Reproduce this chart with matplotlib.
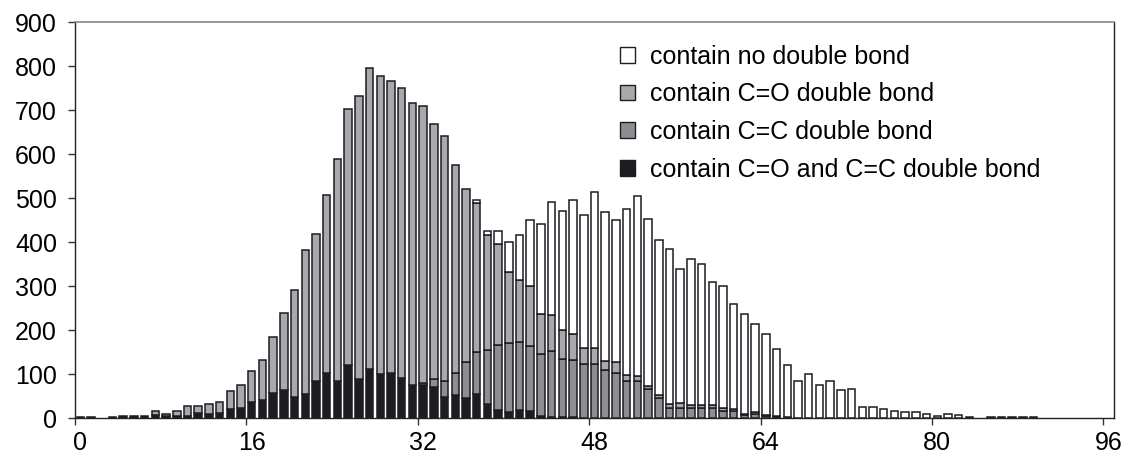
import numpy as np
import matplotlib.pyplot as plt
from matplotlib.patches import Patch

plt.rcParams['font.family'] = ['Liberation Sans', 'DejaVu Sans']

n_bins = 97  # categories 0..96

# counts per bin (bottom -> top of each stack)
both_bonds = [2, 2, 0, 3, 4, 5, 4, 6, 4, 5,
              5, 12, 9, 11, 20, 23, 36, 40, 56, 64,
              47, 55, 85, 102, 85, 120, 89, 111, 99, 102,
              90, 75, 75, 70, 47, 52, 46, 54, 32, 18,
              14, 19, 15, 5, 3, 2, 2, 1, 1, 1,
              1, 1, 1, 1, 1, 1, 1, 1, 1, 1,
              1, 1, 1, 1, 1]
cc_bond = [0, 0, 0, 0, 0, 0, 0, 0, 0, 0,
           0, 0, 0, 0, 0, 0, 0, 0, 0, 0,
           0, 0, 0, 0, 0, 0, 0, 0, 0, 0,
           0, 0, 4, 18, 38, 51, 81, 97, 123, 149,
           157, 153, 149, 141, 150, 133, 130, 121, 122, 108,
           101, 83, 83, 64, 44, 22, 22, 22, 21, 21,
           16, 14, 5, 8, 3, 2, 1]
co_bond = [0, 0, 0, 0, 0, 0, 0, 9, 6, 12,
           22, 16, 22, 26, 41, 51, 70, 91, 129, 175,
           243, 327, 333, 404, 503, 582, 643, 684, 678, 665,
           661, 641, 630, 580, 555, 473, 393, 337, 261, 228,
           160, 142, 136, 90, 80, 64, 60, 36, 37, 20,
           25, 14, 11, 8, 8, 9, 10, 7, 8, 8,
           5, 5, 4, 5, 3, 3, 1]
no_bond = [0, 0, 0, 0, 0, 0, 0, 0, 0, 0,
           0, 0, 0, 0, 0, 0, 0, 0, 0, 0,
           0, 0, 0, 0, 0, 0, 0, 0, 0, 0,
           0, 0, 0, 0, 0, 0, 0, 7, 10, 31,
           70, 102, 151, 205, 258, 271, 303, 303, 354, 340,
           323, 376, 410, 380, 351, 352, 306, 331, 320, 278,
           279, 238, 226, 200, 185, 151, 119, 85, 99, 74,
           84, 64, 66, 26, 24, 20, 17, 14, 14, 10,
           5, 10, 7, 3, 0, 3, 3, 3, 3, 3]

labels = ['contain no double bond', 'contain C=O double bond',
          'contain C=C double bond', 'contain C=O and C=C double bond']
colors = ['white', '#a8a9ad', '#8d8d92', '#1c1c22']
edge = '#1c1c22'

def pad(vals):
    return np.array(vals + [0] * (n_bins - len(vals)), dtype=float)

series = [pad(both_bonds), pad(cc_bond), pad(co_bond), pad(no_bond)]
face = colors[::-1]

fig = plt.figure(figsize=(11.25, 4.66), dpi=100)
ax = fig.add_axes([75 / 1125, 48 / 466, 1039 / 1125, 396 / 466])

x = np.arange(n_bins)
bottom = np.zeros(n_bins)
for vals, fc in zip(series, face):
    m = vals > 0
    ax.bar(x[m], vals[m], width=0.7, bottom=bottom[m], color=fc,
           edgecolor=edge, linewidth=1.1, zorder=3)
    bottom += vals

ax.set_xlim(-0.5, 96.5)
ax.set_ylim(0, 900)

ax.set_yticks(np.arange(0, 901, 100))
ax.set_xticks(np.arange(0, 97, 16))
ax.set_xticks(np.arange(-0.5, 97, 16), minor=True)
ax.tick_params(axis='x', which='major', length=0, pad=9, labelsize=18)
ax.tick_params(axis='x', which='minor', length=5, width=1, color='#333333')
ax.tick_params(axis='y', length=5, width=1, color='#333333', pad=8, labelsize=18)

for s in ['left', 'bottom', 'right']:
    ax.spines[s].set_color('#222222')
    ax.spines[s].set_linewidth(1.0)
ax.spines['top'].set_color('#888888')
ax.spines['top'].set_linewidth(1.2)

handles = [Patch(facecolor=c, edgecolor=edge, linewidth=1.0) for c in colors]
ax.legend(handles, labels, loc='upper left', bbox_to_anchor=(607 / 1125, 1 - 32 / 466),
          bbox_transform=fig.transFigure, frameon=False, fontsize=18,
          handlelength=0.6, handleheight=0.6, handletextpad=0.6,
          labelspacing=0.55, borderpad=0)

fig.savefig('out.png', dpi=100)
